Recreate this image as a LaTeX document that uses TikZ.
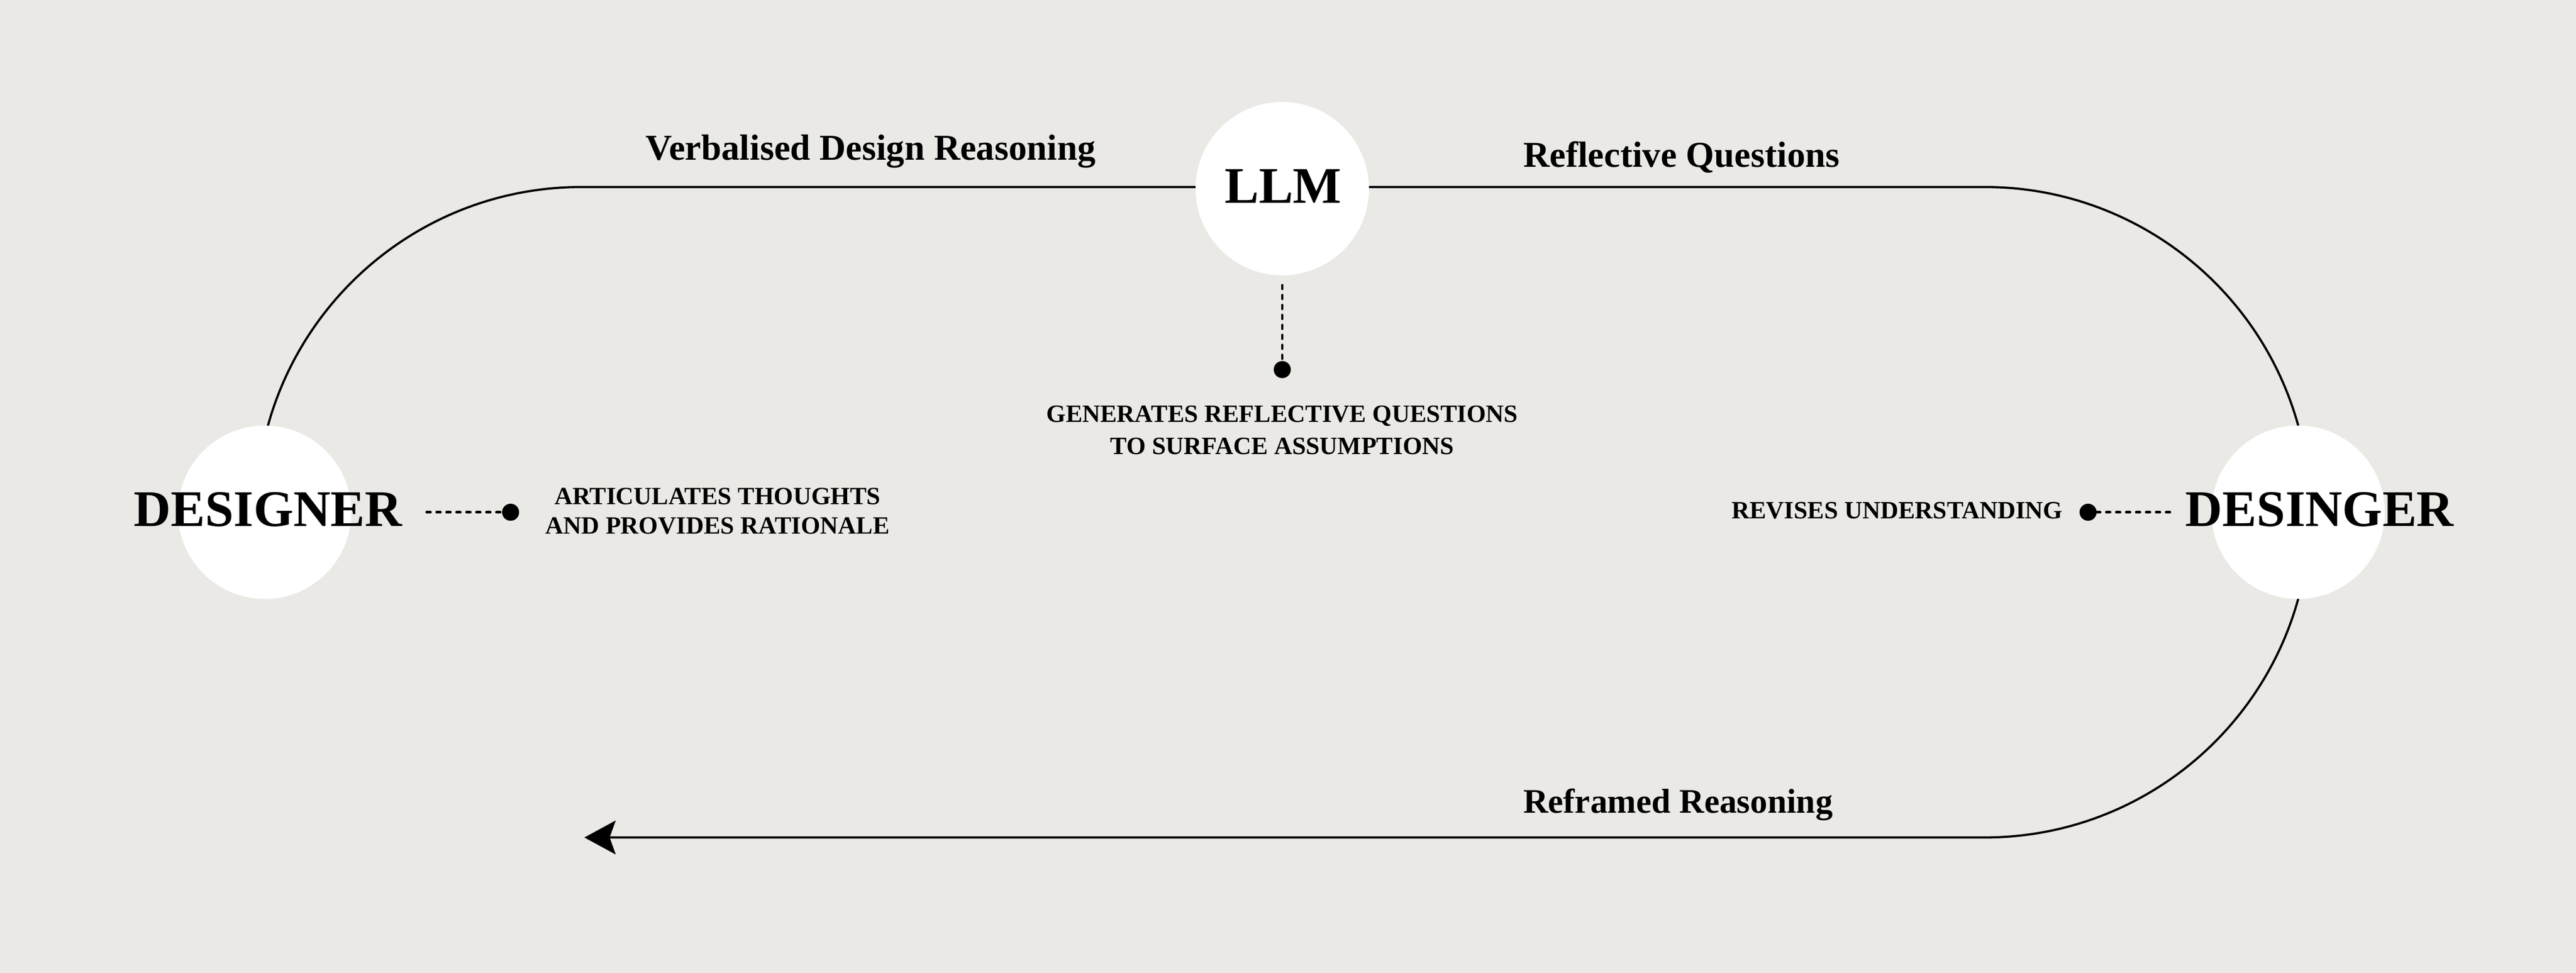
\documentclass[tikz,border=0pt]{standalone}
\usepackage{fontspec}
\setmainfont{Liberation Serif}
\usetikzlibrary{calc,arrows.meta}
\definecolor{fond}{RGB}{234,233,229}
\tikzset{
    flow/.style={line width=1.15pt},
    actor/.style={circle,fill=white,minimum size=31.8mm,inner sep=0},
    actorname/.style={font=\fontsize{26.8}{30}\selectfont\bfseries,inner sep=0},
    flowlabel/.style={font=\fontsize{19}{22}\selectfont\bfseries,inner sep=0,anchor=base west},
    note/.style={font=\fontsize{13}{15.3}\selectfont\bfseries,inner sep=0,align=center},
    leader/.style={line width=1.3pt,line cap=round,dash pattern=on 2pt off 3.2pt},
    dot/.style={circle,fill=black,minimum size=3.13mm,inner sep=0},
  }
\begin{document}
\begin{tikzpicture}[x=0.30134mm,y=0.30134mm]
				  %FOND
				  \fill[fond] (0,0) rectangle (1568,592.35);
				  
				  %BOUCLE
				  \coordinate (W) at (156,280.5);
				  \coordinate (NE) at (1208,478.5);
				  \coordinate (T) at (355.7,82.5);
				  \draw[flow,-{Stealth[length=16.3pt,width=17.6pt,inset=3.1pt]}] (W) arc[start angle=180,end angle=90,radius=198] -- (NE) arc[start angle=90,end angle=-90,radius=198] -- (T);
				  
				  %CERCLES
				  \node[actor] (D_1) at (161.1,280.5) {};
				  \node[actor] (L) at (780.5,477.5) {};
				  \node[actor] (D_2) at (1398.8,280.5) {};
				  \node[actorname] (N_1) at (163,282.3) {DESIGNER};
				  \node[actorname] (N_L) at (781,479) {LLM};
				  \node[actorname] (N_2) at (1412,282.3) {DESINGER};
				  
				  %FLECHES
				  \node[flowlabel] (F_1) at (393,495) {Verbalised Design Reasoning};
				  \node[flowlabel] (F_2) at (927,490.75) {Reflective Questions};
				  \node[flowlabel,font=\fontsize{18}{21}\selectfont\bfseries] (F_3) at (927,97.25) {Reframed Reasoning};
				  
				  %P_1,P_L,P_2
				  \node[dot] (P_1) at (310.8,280.5) {};
				  \coordinate (A_1) at ($(P_1)+(-51.1,0)$);
				  \draw[leader] (A_1) -- (P_1);
				  \node[note] (T_1) at (436.8,281.25) {ARTICULATES THOUGHTS\\AND PROVIDES RATIONALE};
				  
				  \node[dot] (P_L) at (780.5,367.35) {};
				  \coordinate (A_L) at ($(P_L)+(0,51.4)$);
				  \draw[leader] (A_L) -- (P_L);
				  \node[note,font=\fontsize{13}{16.6}\selectfont\bfseries] (T_L) at (780.5,330.45) {GENERATES REFLECTIVE QUESTIONS\\TO SURFACE ASSUMPTIONS};
				  
				  \node[dot] (P_2) at (1271,280.5) {};
				  \coordinate (A_2) at ($(P_2)+(49.8,0)$);
				  \draw[leader] (A_2) -- (P_2);
				  \node[note] (T_2) at (1154.8,281.35) {REVISES UNDERSTANDING};
				  
				  \end{tikzpicture}
\end{document}
